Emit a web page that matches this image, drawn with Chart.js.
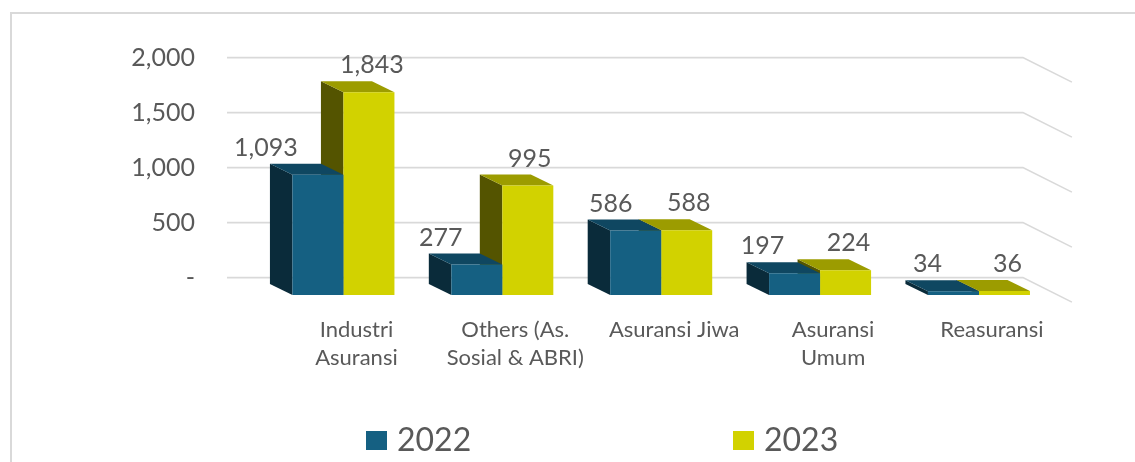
<!DOCTYPE html>
<html>
<head>
<meta charset="utf-8">
<script src="https://cdn.jsdelivr.net/npm/chart.js@4"></script>
<style>
html,body{margin:0;padding:0;background:#fff;overflow:hidden}
#wrap{position:relative;width:1135px;height:462px}
#frame{position:absolute;left:10px;top:12px;right:-4px;bottom:-4px;border:2px solid #D9D9D9;box-sizing:border-box}
canvas{position:absolute;left:0;top:0}
</style>
</head>
<body>
<div id="wrap"><div id="frame"></div><canvas id="c" width="1135" height="462"></canvas></div>
<script>
const categories = [['Industri','Asuransi'],['Others (As.','Sosial & ABRI)'],'Asuransi Jiwa',['Asuransi','Umum'],'Reasuransi'];
const values2022 = [1093, 277, 586, 197, 34];
const values2023 = [1843, 995, 588, 224, 36];
const yTicks = [0, 500, 1000, 1500, 2000];
const seriesNames = ['2022', '2023'];
const shiftX2022 = [-52, -36, -25, -32, -26];
const shiftX2023 = [3, 2, 2, 3, 3];

const FONT = 'Lato, Carlito, sans-serif';
const TXT = '#595959';
const front = ['#156082', '#D2D200'];
const topFace = ['#0F4761', '#9C9C00'];
const sideFace = ['#0A2B3A', '#545400'];
const DX = 22.5, DY = 11;
const fmt = v => v.toLocaleString('en-US');

function poly(ctx, pts, fill) {
  ctx.fillStyle = fill;
  ctx.beginPath();
  pts.forEach((p, i) => i ? ctx.lineTo(p[0], p[1]) : ctx.moveTo(p[0], p[1]));
  ctx.closePath();
  ctx.fill();
}

const bars3d = {
  id: 'bars3d',
  beforeDatasetsDraw(chart) {
    const ctx = chart.ctx, area = chart.chartArea, back = chart.scales.yBack;
    // back wall grid lines with the receding right side
    ctx.save();
    ctx.strokeStyle = '#D9D9D9';
    ctx.lineWidth = 1.6;
    yTicks.forEach(v => {
      const y = back.getPixelForValue(v);
      ctx.beginPath();
      ctx.moveTo(area.left - 37, y);
      ctx.lineTo(area.right - 35.5, y);
      ctx.lineTo(area.right + 13.5, y + 24.5);
      ctx.stroke();
    });
    ctx.restore();
    // side and top faces, rear series first
    categories.forEach((_, i) => {
      [1, 0].forEach(d => {
        const b = chart.getDatasetMeta(d).data[i];
        const l = b.x - b.width / 2, r = b.x + b.width / 2;
        poly(ctx, [[l, b.y], [l - DX, b.y - DY], [l - DX, b.base - DY], [l, b.base]], sideFace[d]);
        poly(ctx, [[l, b.y], [l - DX, b.y - DY], [r - DX, b.y - DY], [r, b.y]], topFace[d]);
      });
    });
  },
  afterDatasetsDraw(chart) {
    const ctx = chart.ctx;
    ctx.save();
    ctx.fillStyle = TXT;
    ctx.font = '25px ' + FONT;
    ctx.textAlign = 'center';
    ctx.textBaseline = 'middle';
    [[values2022, shiftX2022], [values2023, shiftX2023]].forEach((s, d) => {
      chart.getDatasetMeta(d).data.forEach((b, i) => {
        ctx.fillText(fmt(s[0][i]), b.x + s[1][i], b.y - 27);
      });
    });
    // legend
    const swatchX = [366, 733];
    chart.data.datasets.forEach((ds, d) => {
      ctx.fillStyle = ds.backgroundColor;
      ctx.fillRect(swatchX[d], 431, 21, 19);
      ctx.fillStyle = TXT;
      ctx.font = '32px ' + FONT;
      ctx.textAlign = 'left';
      ctx.fillText(ds.label, swatchX[d] + 31, 441);
    });
    ctx.restore();
  }
};

new Chart(document.getElementById('c'), {
  type: 'bar',
  data: {
    labels: categories,
    datasets: [
      { label: seriesNames[0], data: values2022, backgroundColor: front[0], yAxisID: 'y' },
      { label: seriesNames[1], data: values2023, backgroundColor: front[1], yAxisID: 'y' }
    ]
  },
  options: {
    responsive: false,
    animation: false,
    layout: { autoPadding: false, padding: { top: 50, right: 76.6, left: 0, bottom: 0 } },
    plugins: { legend: { display: false }, tooltip: { enabled: false } },
    datasets: { bar: { categoryPercentage: 0.642, barPercentage: 1 } },
    scales: {
      x: {
        grid: { display: false, drawTicks: false },
        border: { display: false },
        afterFit: s => { s.height = 160; s.paddingLeft = 0; s.paddingRight = 0; },
        ticks: {
          color: TXT, autoSkip: false, maxRotation: 0, minRotation: 0,
          labelOffset: 13, padding: 14,
          font: { family: FONT, size: 22, lineHeight: 1.27 }
        }
      },
      y: { display: false, min: -63.64, max: 2227.27 },
      yBack: {
        position: 'left',
        min: -221.82, max: 2069.09,
        grid: { display: false, drawTicks: false },
        border: { display: false },
        afterBuildTicks: a => { a.ticks = yTicks.map(v => ({ value: v })); },
        afterFit: s => { s.width = 264; s.paddingTop = 0; s.paddingBottom = 0; },
        ticks: {
          color: TXT, padding: 69,
          font: { family: FONT, size: 25 },
          callback: v => v === 0 ? '-' : fmt(v)
        }
      }
    }
  },
  plugins: [bars3d]
});
</script>
</body>
</html>
